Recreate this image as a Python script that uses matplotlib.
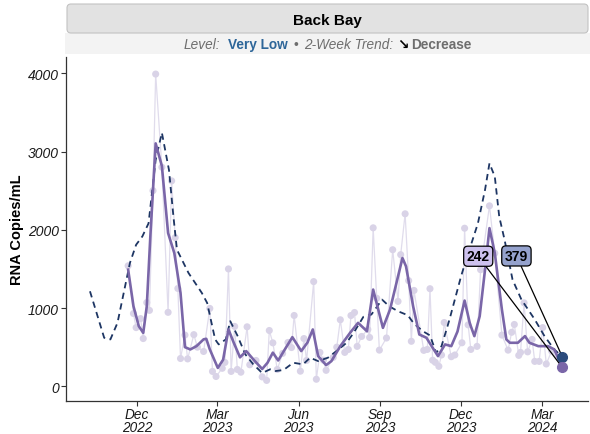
import pandas as pd
import matplotlib
matplotlib.use("Agg")
import matplotlib.pyplot as plt
from matplotlib.patches import FancyBboxPatch, Rectangle

plt.rcParams["font.family"] = ["Liberation Sans", "DejaVu Sans"]

site = "Back Bay"
level = "Very Low"
trend = "Decrease"

# raw samples (light dots)
sample_dates = [
    "2022-11-21", "2022-11-27", "2022-11-30", "2022-12-05", "2022-12-08", "2022-12-12",
    "2022-12-15", "2022-12-19", "2022-12-22", "2022-12-29", "2023-01-05", "2023-01-09",
    "2023-01-13", "2023-01-16", "2023-01-19", "2023-01-24", "2023-01-27", "2023-02-03",
    "2023-02-07", "2023-02-14", "2023-02-21", "2023-02-24", "2023-02-28", "2023-03-07",
    "2023-03-10", "2023-03-14", "2023-03-17", "2023-03-21", "2023-03-24", "2023-03-28",
    "2023-04-04", "2023-04-07", "2023-04-14", "2023-04-21", "2023-04-26", "2023-04-29",
    "2023-05-03", "2023-05-08", "2023-05-14", "2023-05-20", "2023-05-24", "2023-05-27",
    "2023-06-03", "2023-06-07", "2023-06-10", "2023-06-18", "2023-06-21", "2023-06-25",
    "2023-06-29", "2023-07-02", "2023-07-10", "2023-07-14", "2023-07-18", "2023-07-23",
    "2023-07-27", "2023-07-30", "2023-08-03", "2023-08-06", "2023-08-11", "2023-08-18",
    "2023-08-20", "2023-08-24", "2023-08-28", "2023-08-31", "2023-09-08", "2023-09-15",
    "2023-09-21", "2023-09-24", "2023-09-29", "2023-10-03", "2023-10-06", "2023-10-09",
    "2023-10-20", "2023-10-24", "2023-10-27", "2023-10-30", "2023-11-02", "2023-11-06",
    "2023-11-09", "2023-11-12", "2023-11-20", "2023-11-24", "2023-12-02", "2023-12-05",
    "2023-12-09", "2023-12-12", "2023-12-19", "2023-12-23", "2024-01-02", "2024-01-08",
    "2024-01-16", "2024-01-23", "2024-01-27", "2024-01-30", "2024-02-04", "2024-02-06",
    "2024-02-10", "2024-02-14", "2024-02-19", "2024-02-22", "2024-02-27", "2024-03-02",
    "2024-03-06", "2024-03-12", "2024-03-24",
]
sample_values = [
    1540, 930, 750, 865, 610, 1070,
    970, 2500, 3990, 2800, 945, 2625,
    1900, 1250, 355, 655, 350, 660,
    500, 445, 995, 190, 125, 230,
    305, 1500, 190, 765, 215, 180,
    760, 275, 330, 120, 75, 713,
    555, 215, 420, 560, 495, 905,
    193, 610, 330, 1338, 90, 433,
    333, 204, 369, 500, 850, 433,
    470, 904, 943, 510, 637, 726,
    624, 2025, 1125, 462, 617, 1745,
    1085, 1682, 2204, 1350, 575, 1225,
    459, 471, 1247, 333, 306, 255,
    400, 815, 378, 400, 556, 2020,
    785, 471, 510, 1490, 2306, 1700,
    654, 462, 690, 790, 395, 433,
    1066, 440, 599, 318, 318, 750,
    285, 450, 242,
]

# smoothed site trend (solid purple)
smooth_dates = [
    "2022-11-21", "2022-11-27", "2022-12-03", "2022-12-08", "2022-12-12", "2022-12-16",
    "2022-12-22", "2022-12-29", "2023-01-05", "2023-01-12", "2023-01-19", "2023-01-24",
    "2023-01-30", "2023-02-06", "2023-02-14", "2023-02-17", "2023-02-21", "2023-03-02",
    "2023-03-08", "2023-03-14", "2023-03-20", "2023-03-27", "2023-04-03", "2023-04-11",
    "2023-04-21", "2023-04-27", "2023-05-03", "2023-05-09", "2023-05-17", "2023-05-25",
    "2023-06-04", "2023-06-11", "2023-06-17", "2023-06-23", "2023-07-02", "2023-07-08",
    "2023-07-18", "2023-07-29", "2023-08-07", "2023-08-17", "2023-08-24", "2023-09-04",
    "2023-09-12", "2023-09-26", "2023-09-30", "2023-10-08", "2023-10-15", "2023-10-23",
    "2023-10-30", "2023-11-05", "2023-11-13", "2023-11-20", "2023-11-27", "2023-12-05",
    "2023-12-11", "2023-12-16", "2023-12-22", "2023-12-28", "2024-01-02", "2024-01-08",
    "2024-01-16", "2024-01-21", "2024-01-25", "2024-02-03", "2024-02-11", "2024-02-16",
    "2024-02-26", "2024-03-08", "2024-03-15", "2024-03-24",
]
smooth_values = [
    1490, 1023, 768, 683, 1023, 1915,
    3104, 2815, 1958, 1703, 1193, 500,
    471, 513, 600, 607, 471, 235,
    340, 726, 556, 370, 450, 344,
    221, 301, 430, 330, 480, 628,
    450, 560, 726, 386, 271, 322,
    513, 683, 811, 704, 1236, 747,
    981, 1639, 1533, 1023, 662, 620,
    493, 386, 535, 513, 700, 1095,
    800, 641, 896, 1490, 2021, 1703,
    981, 599, 556, 556, 641, 556,
    513, 513, 471, 242,
]

# regional trend (dashed navy)
region_dates = [
    "2022-10-09", "2022-10-25", "2022-11-01", "2022-11-09", "2022-11-16", "2022-11-23",
    "2022-11-30", "2022-12-07", "2022-12-14", "2022-12-22", "2022-12-29", "2023-01-06",
    "2023-01-11", "2023-01-15", "2023-01-28", "2023-02-12", "2023-02-18", "2023-02-27",
    "2023-03-03", "2023-03-11", "2023-03-16", "2023-03-24", "2023-04-02", "2023-04-11",
    "2023-04-21", "2023-04-30", "2023-05-06", "2023-05-15", "2023-05-26", "2023-06-06",
    "2023-06-14", "2023-06-23", "2023-07-04", "2023-07-16", "2023-07-25", "2023-08-02",
    "2023-08-13", "2023-08-22", "2023-09-03", "2023-09-11", "2023-09-21", "2023-10-02",
    "2023-10-09", "2023-10-19", "2023-10-27", "2023-11-03", "2023-11-09", "2023-11-18",
    "2023-11-26", "2023-12-01", "2023-12-05", "2023-12-20", "2023-12-28", "2024-01-02",
    "2024-01-08", "2024-01-13", "2024-01-19", "2024-01-28", "2024-02-07", "2024-02-22",
    "2024-03-04", "2024-03-15", "2024-03-24",
]
region_values = [
    1214, 620, 599, 811, 1193, 1576,
    1809, 1915, 2083, 2892, 3240, 2764,
    2169, 1745, 1448, 1193, 1065, 599,
    535, 599, 832, 650, 408, 280,
    170, 217, 195, 208, 301, 280,
    365, 322, 365, 471, 556, 683,
    888, 917, 1108, 1023, 959, 908,
    800, 704, 650, 428, 513, 854,
    1193, 1405, 1554, 2083, 2510, 2850,
    2680, 2169, 1873, 1363, 1108, 854,
    641, 471, 379,
]

tick_dates = ["2022-12-01", "2023-03-01", "2023-06-01", "2023-09-01", "2023-12-01", "2024-03-01"]
tick_labels = ["Dec\n2022", "Mar\n2023", "Jun\n2023", "Sep\n2023", "Dec\n2023", "Mar\n2024"]

sample_dates = pd.to_datetime(sample_dates)
smooth_dates = pd.to_datetime(smooth_dates)
region_dates = pd.to_datetime(region_dates)

purple = "#7a66a8"
navy = "#1d3563"
dot_col = "#d9d3e7"
gray_txt = "#6e6e6e"

W, H = 590, 435
fig = plt.figure(figsize=(W / 100, H / 100), dpi=100)
ax = fig.add_axes([66 / W, 1 - 402 / H, (588 - 66) / W, (402 - 58) / H])

ax.plot(sample_dates, sample_values, color="#e0dcec", lw=0.9, zorder=1)
ax.scatter(sample_dates, sample_values, s=26, color=dot_col, edgecolors="none", zorder=2)
ax.plot(region_dates, region_values, color=navy, lw=1.3, ls=(0, (3.5, 2.5)), zorder=3)
ax.plot(smooth_dates, smooth_values, color=purple, lw=1.9, zorder=4)

# end labels
ax.annotate(f"{smooth_values[-1]}", xy=(smooth_dates[-1], smooth_values[-1]),
            xytext=(-60.5, 80), textcoords="offset points", ha="center", va="center",
            fontsize=10, fontweight="bold",
            bbox=dict(boxstyle="round,pad=0.22,rounding_size=0.3", fc="#cdc1ee", ec="black", lw=0.9),
            arrowprops=dict(arrowstyle="-", color="black", lw=0.9, shrinkA=0, shrinkB=0),
            zorder=5)
ax.annotate(f"{region_values[-1]}", xy=(region_dates[-1], region_values[-1]),
            xytext=(-33, 72.5), textcoords="offset points", ha="center", va="center",
            fontsize=10, fontweight="bold",
            bbox=dict(boxstyle="round,pad=0.22,rounding_size=0.3", fc="#95a2cd", ec="black", lw=0.9),
            arrowprops=dict(arrowstyle="-", color="black", lw=0.9, shrinkA=0, shrinkB=0),
            zorder=5)
ax.plot(region_dates[-1:], region_values[-1:], "o", ms=7, color="#2b4b7c", zorder=6)
ax.plot(smooth_dates[-1:], smooth_values[-1:], "o", ms=7, color=purple, zorder=6)

ax.set_xlim(pd.Timestamp("2022-09-12"), pd.Timestamp("2024-04-22"))
ax.set_ylim(-188, 4208)
ax.set_yticks([0, 1000, 2000, 3000, 4000])
ax.set_yticklabels(["0", "1000", "2000", "3000", "4000"], fontstyle="italic", fontsize=10)
ax.set_xticks(pd.to_datetime(tick_dates))
ax.set_xticklabels(tick_labels, fontstyle="italic", fontsize=9.8, linespacing=0.92)
ax.tick_params(axis="both", length=3.5, width=0.8, color="#333333", labelcolor="#1a1a1a")
ax.tick_params(axis="x", pad=1)
ax.tick_params(axis="y", pad=1.5)
for side in ["top", "right"]:
    ax.spines[side].set_visible(False)
for side in ["left", "bottom"]:
    ax.spines[side].set_color("#333333")
    ax.spines[side].set_linewidth(0.9)
ax.set_ylabel("RNA Copies/mL", fontsize=10.5, fontweight="bold")
ax.yaxis.set_label_coords(-0.08, 0.5)

# header strips
fig.patches.append(Rectangle((0.65, (H - 55) / 100), 5.25, 0.21, transform=fig.dpi_scale_trans,
                             fc="#f3f3f3", ec="none"))
fig.patches.append(FancyBboxPatch((0.67, (H - 34) / 100), 5.21, 0.29,
                                  boxstyle="round,pad=0,rounding_size=0.04",
                                  transform=fig.dpi_scale_trans,
                                  fc="#e2e2e2", ec="#c2c2c2", lw=0.8))
fig.text(327.5 / W, 1 - 24.5 / H, site, ha="center", va="baseline", fontsize=11, fontweight="bold")

pieces = [
    ("Level:", dict(fontstyle="italic", color=gray_txt), 7),
    (level, dict(fontweight="bold", color="#2e6699"), 6),
    ("\u2022", dict(color=gray_txt), 6),
    ("2-Week Trend:", dict(fontstyle="italic", color=gray_txt), 4),
    ("\u2198", dict(fontweight="bold", color="black", family=["DejaVu Sans"]), 3),
    (trend, dict(fontweight="bold", color=gray_txt), 0),
]
renderer = fig.canvas.get_renderer()
placed = []
for s, kw, gap in pieces:
    t = fig.text(0, 1 - 49 / H, s, ha="left", va="baseline", fontsize=9.8, **kw)
    w = t.get_window_extent(renderer).width
    placed.append((t, w, gap))
total = sum(w + g for _, w, g in placed)
x = 328 - total / 2
for t, w, gap in placed:
    t.set_x(x / W)
    x += w + gap

fig.savefig("out.png", dpi=100)
